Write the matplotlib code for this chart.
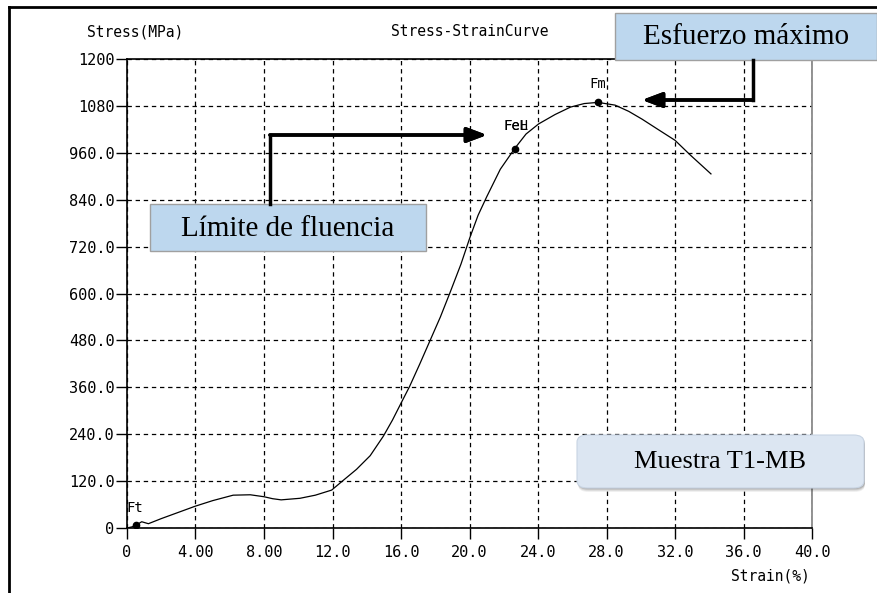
import matplotlib.pyplot as plt
from matplotlib.lines import Line2D
from matplotlib.patches import FancyBboxPatch, Rectangle

# tensile test readings
strain = [0, 0.3, 0.55, 0.86, 1.25, 2.0, 3.0, 4.0, 5.0, 6.2, 7.2, 8.0, 8.5, 9.0,
          10.1, 11.0, 11.95, 12.63, 13.4, 14.2, 14.97, 15.5, 15.94, 16.5, 17.1, 17.7,
          18.3, 18.86, 19.5, 20.03, 20.5, 21.0, 21.8, 22.64, 23.3, 24.04, 25.0, 25.9,
          26.7, 27.5, 28.5, 29.3, 30.08, 31.0, 32.0, 32.9, 34.1]
stress = [0, 3, 8, 16, 11, 24, 40, 56, 70, 84, 85, 80, 75, 72,
          76, 84, 97, 122, 150, 185, 235, 276, 314, 362, 420, 480,
          540, 602, 675, 744, 800, 847, 918, 971, 1008, 1034, 1058, 1077,
          1086, 1089, 1082, 1066, 1046, 1020, 992, 954, 906]

point_names = ["Ft", "FeL", "Fm"]
point_strain = [0.55, 22.64, 27.5]
point_stress = [8, 971, 1089]

x_ticks = [0, 4, 8, 12, 16, 20, 24, 28, 32, 36, 40]
x_labels = ["0", "4.00", "8.00", "12.0", "16.0", "20.0", "24.0", "28.0", "32.0", "36.0", "40.0"]
y_ticks = [0, 120, 240, 360, 480, 600, 720, 840, 960, 1080, 1200]
y_labels = ["0", "120.0", "240.0", "360.0", "480.0", "600.0", "720.0", "840.0", "960.0", "1080", "1200"]

W, H = 878, 593
MONO = "DejaVu Sans Mono"
SERIF = "Liberation Serif"


def px(x, y):
    return x / W, 1 - y / H


fig = plt.figure(figsize=(W / 100, H / 100), dpi=100)
ax = fig.add_axes([127 / W, 1 - 528 / H, (812 - 127) / W, (528 - 59) / H])

ax.plot(strain, stress, color="black", linewidth=0.9, solid_joinstyle="round")
ax.plot(point_strain, point_stress, "o", color="black", markersize=4.5)

ax.set_xlim(0, 40)
ax.set_ylim(0, 1200)
ax.set_xticks(x_ticks)
ax.set_xticklabels(x_labels, fontfamily=MONO, fontsize=11)
ax.set_yticks(y_ticks)
ax.set_yticklabels(y_labels, fontfamily=MONO, fontsize=11)
ax.tick_params(direction="out", length=8, width=1, color="black")
ax.tick_params(axis="x", pad=4)
ax.tick_params(axis="y", pad=1)
ax.grid(True, color="black", linestyle=(0, (3.5, 3)), linewidth=0.9)

for side in ["left", "bottom", "top"]:
    ax.spines[side].set_color("black")
    ax.spines[side].set_linewidth(1.2)
ax.spines["right"].set_color("#808080")
ax.spines["right"].set_linewidth(1.2)

# point labels (FeH and FeL print on top of each other)
ax.text(point_strain[0] - 0.1, point_stress[0] + 25, "Ft", fontfamily=MONO, fontsize=10,
        ha="center", va="bottom")
ax.text(point_strain[1] + 0.1, point_stress[1] + 40, "FeH", fontfamily=MONO, fontsize=10,
        ha="center", va="bottom")
ax.text(point_strain[1] + 0.1, point_stress[1] + 40, "FeL", fontfamily=MONO, fontsize=10,
        ha="center", va="bottom")
ax.text(point_strain[2], point_stress[2] + 28, "Fm", fontfamily=MONO, fontsize=10,
        ha="center", va="bottom")

# header and axis names
fig.text(*px(87, 32), "Stress(MPa)", fontfamily=MONO, fontsize=10.5, ha="left", va="center")
fig.text(*px(470, 32), "Stress-StrainCurve", fontfamily=MONO, fontsize=10.5, ha="center", va="center")
fig.text(*px(810, 576), "Strain(%)", fontfamily=MONO, fontsize=10.5, ha="right", va="center")

# outer frame
fig.add_artist(Line2D([9 / W, 9 / W], [0, 1 - 7 / H], color="black", linewidth=2,
                      transform=fig.transFigure))
fig.add_artist(Line2D([9 / W, 1], [1 - 7 / H, 1 - 7 / H], color="black", linewidth=2,
                      transform=fig.transFigure))


def callout_arrow(points):
    xs = [px(x, y)[0] for x, y in points]
    ys = [px(x, y)[1] for x, y in points]
    fig.add_artist(Line2D(xs[:-1], ys[:-1], color="black", linewidth=2.5,
                          solid_joinstyle="miter", transform=fig.transFigure))
    fig.add_artist(plt.annotate("", xy=(xs[-1], ys[-1]), xytext=(xs[-2], ys[-2]),
                                xycoords=fig.transFigure, textcoords=fig.transFigure,
                                arrowprops=dict(arrowstyle="-|>,head_length=1.2,head_width=0.45",
                                                color="black", linewidth=2.5,
                                                shrinkA=0, shrinkB=0)))


callout_arrow([(753, 60), (753, 100), (642, 100)])
callout_arrow([(270, 204), (270, 135), (487, 135)])


def square_box(x0, y0, x1, y1, text, size):
    fig.add_artist(Rectangle(px(x0, y1), (x1 - x0) / W, (y1 - y0) / H,
                             facecolor="#BDD7EE", edgecolor="#A0A0A0", linewidth=1,
                             transform=fig.transFigure))
    fig.text(*px((x0 + x1) / 2, (y0 + y1) / 2 + 1), text, fontfamily=SERIF, fontsize=size,
             ha="center", va="center")


square_box(615, 13, 877, 60, "Esfuerzo máximo", 21)
square_box(150, 204, 426, 251, "Límite de fluencia", 21)

# rounded sample tag with soft shadow
mx0, my0, mx1, my1 = 577, 435, 864, 488
for i, a in enumerate([0.06, 0.08, 0.1, 0.12]):
    off = 4 - i
    fig.add_artist(FancyBboxPatch(px(mx0 + 1, my1 + off), (mx1 - mx0) / W, (my1 - my0) / H,
                                  boxstyle="round,pad=0,rounding_size=0.012",
                                  facecolor="black", edgecolor="none", alpha=a,
                                  transform=fig.transFigure))
fig.add_artist(FancyBboxPatch(px(mx0, my1), (mx1 - mx0) / W, (my1 - my0) / H,
                              boxstyle="round,pad=0,rounding_size=0.012",
                              facecolor="#DCE6F2", edgecolor="#C8D4E3", linewidth=0.8,
                              transform=fig.transFigure))
fig.text(*px((mx0 + mx1) / 2, (my0 + my1) / 2), "Muestra T1-MB", fontfamily=SERIF,
         fontsize=19, ha="center", va="center")

fig.savefig("out.png", dpi=100)
